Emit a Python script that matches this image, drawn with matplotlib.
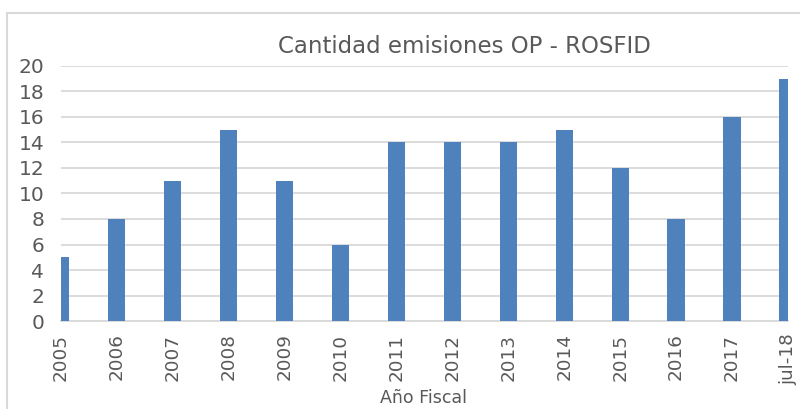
import matplotlib
matplotlib.use("Agg")
import matplotlib.pyplot as plt
import numpy as np
from matplotlib.lines import Line2D

# datos
years = ["2005", "2006", "2007", "2008", "2009", "2010", "2011",
         "2012", "2013", "2014", "2015", "2016", "2017", "jul-18"]
emisiones = [5, 8, 11, 15, 11, 6, 14, 14, 14, 15, 12, 8, 16, 19]

BAR_COLOR = "#4f81bd"
TEXT_COLOR = "#595959"
GRID_COLOR = "#d9d9d9"

plt.rcParams["font.family"] = ["DejaVu Sans"]

fig = plt.figure(figsize=(8, 4.09), dpi=100)
ax = fig.add_axes([0.076, 0.215, 0.909, 0.624])

x = np.arange(len(years))
ax.bar(x, emisiones, width=0.31, color=BAR_COLOR, zorder=3)

ax.set_xlim(0, len(years) - 1)
ax.set_ylim(0, 20)
ax.set_yticks(range(0, 21, 2))
ax.set_xticks(x)
ax.set_xticklabels(years, rotation=90, fontsize=13.2, color=TEXT_COLOR)
ax.tick_params(axis="y", labelsize=14.5, labelcolor=TEXT_COLOR, length=0, pad=12)
ax.tick_params(axis="x", length=0, pad=9)

ax.grid(axis="y", color=GRID_COLOR, linewidth=1.3, zorder=0)
for s in ["top", "right", "left"]:
    ax.spines[s].set_visible(False)
ax.spines["bottom"].set_color(GRID_COLOR)
ax.spines["bottom"].set_linewidth(1.3)

fig.text(0.581, 0.887, "Cantidad emisiones OP - ROSFID", ha="center", va="center",
         fontsize=16.5, color=TEXT_COLOR)
fig.text(0.53, 0.027, "Año Fiscal", ha="center", va="center",
         fontsize=12.5, color=TEXT_COLOR)

# marco del gráfico
fig.add_artist(Line2D([7 / 800, 1.0], [1 - 13 / 409, 1 - 13 / 409],
                      transform=fig.transFigure, color=GRID_COLOR, linewidth=1.5))
fig.add_artist(Line2D([7 / 800, 7 / 800], [0.0, 1 - 13 / 409],
                      transform=fig.transFigure, color=GRID_COLOR, linewidth=1.5))

fig.savefig("out.png", dpi=100)
